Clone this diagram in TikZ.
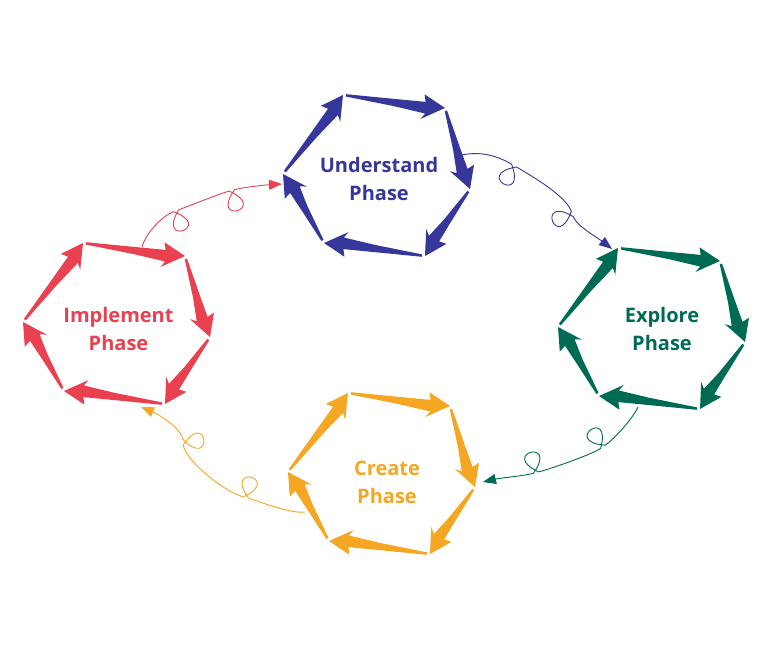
\documentclass[tikz,border=0pt]{standalone}
\usepackage{fontspec}
\setmainfont{Open Sans}
\usetikzlibrary{calc,arrows.meta}

\definecolor{understandblue}{HTML}{36379A}
\definecolor{exploregreen}{HTML}{006B55}
\definecolor{createorange}{HTML}{F5A623}
\definecolor{implementred}{HTML}{E9414F}

% one tapered arrow from #1 to #2
\newcommand{\phasearrow}[2]{%
  \fill ($(#1)!3pt!(#2)!1.2pt!90:(#2)$)
    -- ($(#1)!0.5!(#2)!2.6pt!90:(#2)$)
    -- ($(#2)!20pt!(#1)!3.6pt!-90:(#1)$)
    -- ($(#2)!22pt!(#1)!11pt!-90:(#1)$)
    -- (#2)
    -- ($(#2)!23pt!(#1)!14pt!90:(#1)$)
    -- ($(#2)!19pt!(#1)!8pt!90:(#1)$)
    -- ($(#1)!0.5!(#2)!4.6pt!-90:(#2)$)
    -- ($(#1)!3pt!(#2)!1.2pt!-90:(#2)$) -- cycle;}

% six arrows round a hexagon, #1 name, #2 top left corner, #3 colour
\newcommand{\phasehex}[3]{%
  \coordinate (#1-1) at (#2);
  \coordinate (#1-2) at ($(#2)+(102,13)$);
  \coordinate (#1-3) at ($(#2)+(127,94)$);
  \coordinate (#1-4) at ($(#2)+(82,161)$);
  \coordinate (#1-5) at ($(#2)+(-19,148)$);
  \coordinate (#1-6) at ($(#2)+(-60,79)$);
  \begin{scope}[fill=#3]
    \phasearrow{#1-1}{#1-2}
    \phasearrow{#1-2}{#1-3}
    \phasearrow{#1-3}{#1-4}
    \phasearrow{#1-4}{#1-5}
    \phasearrow{#1-5}{#1-6}
    \phasearrow{#1-6}{#1-1}
  \end{scope}}

\begin{document}
\begin{tikzpicture}[x=1pt, y=-1pt,
    phase/.style={font=\bfseries\fontsize{20}{28}\selectfont, align=center, text=#1},
    link/.style={draw=#1, line width=0.9pt, -{Triangle[length=13pt,width=10pt]}}]
	\useasboundingbox (0,0) rectangle (768,663);

	\phasehex{und}{343,95}{understandblue}
	\phasehex{exp}{618,248}{exploregreen}
	\phasehex{cre}{348,393}{createorange}
	\phasehex{imp}{83,243}{implementred}

	\node[phase=understandblue] (understand) at (379,179) {Understand\\Phase};
	\node[phase=exploregreen] (explore) at (662,329) {Explore\\Phase};
	\node[phase=createorange] (create) at (387,482) {Create\\Phase};
	\node[phase=implementred] (implement) at (118.5,329) {Implement\\Phase};

	\coordinate (imp-out) at (142,247);
	\coordinate (und-in) at (282,184);
	\coordinate (und-out) at (462,155);
	\coordinate (exp-in) at (612,249);
	\coordinate (exp-out) at (638,407);
	\coordinate (cre-in) at (483,482);
	\coordinate (cre-out) at (305,512);
	\coordinate (imp-in) at (141,407);

	% curly links
	\draw[link=implementred] (imp-out) .. controls (146,232) and (163.9,215.1) .. (173.3,211.7)
		.. controls (214.8,226.5) and (156.2,247.7) .. (178.6,209.8)
		.. controls (188.0,206.4) and (219.5,193.7) .. (229.2,191.1)
		.. controls (269.3,209.3) and (209.0,225.6) .. (234.6,189.7)
		.. controls (244.3,187.1) and (265,185) .. (und-in);
	\draw[link=understandblue] (und-out) .. controls (485,150) and (502.9,159.2) .. (511.6,164.2)
		.. controls (527.0,205.5) and (473.0,174.3) .. (516.4,167.0)
		.. controls (538.1,179.5) and (566.2,197.2) .. (571.3,211.3)
		.. controls (556.6,252.8) and (535.3,194.2) .. (573.2,216.6)
		.. controls (576.6,226.0) and (598,238) .. (exp-in);
	\draw[link=exploregreen] (exp-out) .. controls (632,420) and (613.4,439.5) .. (605.2,445.2)
		.. controls (561.3,441.8) and (612.4,406.0) .. (600.6,448.4)
		.. controls (592.4,454.1) and (553.3,468.0) .. (538.8,471.9)
		.. controls (498.7,453.7) and (559.0,437.4) .. (533.4,473.3)
		.. controls (523.7,475.9) and (500,478) .. (cre-in);
	\draw[link=createorange] (cre-out) .. controls (290,514) and (258.3,500.9) .. (248.6,498.3)
		.. controls (223.0,462.4) and (283.3,478.7) .. (243.2,496.9)
		.. controls (223.9,491.7) and (184.6,459.7) .. (183.3,444.8)
		.. controls (208.2,408.5) and (213.7,470.6) .. (182.8,439.2)
		.. controls (181.9,429.2) and (160,415) .. (imp-in);
\end{tikzpicture}
\end{document}
